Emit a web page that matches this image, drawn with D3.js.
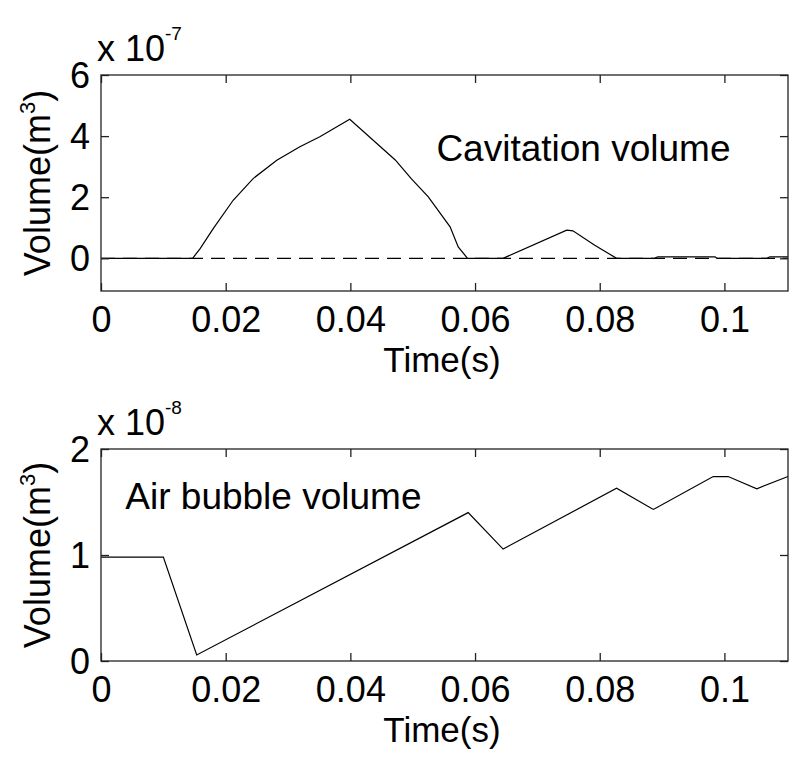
<!DOCTYPE html>
<html>
<head>
<meta charset="utf-8">
<script src="https://cdn.jsdelivr.net/npm/d3@7"></script>
<style>
  body { margin: 0; background: #fff; }
  svg text { font-family: "Liberation Sans", Arial, sans-serif; fill: #000; }
</style>
</head>
<body>
<div id="chart"></div>
<script>
// cavitation volume, units of 1e-7 m^3
const cavTime = [0, 0.0147, 0.0159, 0.0180, 0.0212, 0.0244, 0.0282, 0.0319, 0.0351, 0.0399, 0.0472, 0.0498, 0.0525, 0.0560, 0.0573, 0.0588,
  0.0645, 0.0747, 0.0757, 0.0792, 0.0827, 0.0888, 0.0893, 0.0985, 0.0988, 0.1068, 0.1073, 0.1102]
const cavVol = [0, 0, 0.32, 0.97, 1.90, 2.61, 3.21, 3.65, 3.98, 4.55, 3.22, 2.60, 2.01, 1.03, 0.37, 0,
  0, 0.92, 0.90, 0.43, 0, 0, 0.05, 0.05, 0, 0, 0.05, 0.05]

// air bubble volume, units of 1e-8 m^3
const airTime = [0, 0.0100, 0.01535, 0.0589, 0.0645, 0.0827, 0.0886, 0.0982, 0.1006, 0.1052, 0.1102]
const airVol = [0.98, 0.98, 0.057, 1.40, 1.056, 1.63, 1.43, 1.74, 1.74, 1.625, 1.74]

const xTicks = [0, 0.02, 0.04, 0.06, 0.08, 0.1]
const cavYTicks = [0, 2, 4, 6]
const airYTicks = [0, 1, 2]

const width = 795, height = 765;

const svg = d3.select('#chart')
.append('svg')
.attr('width', width)
.attr('height', height);

const drawPanel = (opt) => {

	const x = d3.scaleLinear().domain([0, 0.1102]).range([101, 788]);
	const y = d3.scaleLinear().domain(opt.yDomain).range([opt.bottom, opt.top]);

	const g = svg.append('g');

	// zero reference line (dashed)
	if (opt.dashedZero) {
		g.append('line')
		.attr('x1', x.range()[0]).attr('x2', x.range()[1])
		.attr('y1', y(0)).attr('y2', y(0))
		.attr('stroke', '#000')
		.attr('stroke-width', 1.2)
		.attr('stroke-dasharray', '14,8');
	}

	const line = d3.line()
	.x(d => x(d[0]))
	.y(d => y(d[1]));

	g.append('path')
	.datum(opt.time.map((t, i) => [t, opt.vol[i]]))
	.attr('d', line)
	.attr('fill', 'none')
	.attr('stroke', '#000')
	.attr('stroke-width', 1.2);

	// axes, ticks inside on all four sides
	const tickLen = 8;
	const axB = g.append('g').attr('transform', `translate(0,${opt.bottom})`)
	.call(d3.axisBottom(x).tickValues(xTicks).tickSize(-tickLen).tickPadding(15).tickFormat(d3.format('~g')));
	const axT = g.append('g').attr('transform', `translate(0,${opt.top})`)
	.call(d3.axisTop(x).tickValues(xTicks).tickSize(-tickLen).tickFormat(''));
	const axL = g.append('g').attr('transform', `translate(101,0)`)
	.call(d3.axisLeft(y).tickValues(opt.yTicks).tickSize(-tickLen).tickPadding(11).tickFormat(d3.format('~g')));
	const axR = g.append('g').attr('transform', `translate(788,0)`)
	.call(d3.axisRight(y).tickValues(opt.yTicks).tickSize(-tickLen).tickFormat(''));

	[axB, axT, axL, axR].forEach(a => {
		a.select('.domain').remove();
		a.selectAll('line').attr('stroke', '#222').attr('stroke-width', 1.3);
		a.selectAll('text').style('font-size', '36px').attr('fill', '#000');
	});

	axB.selectAll('text').attr('dy', '0.71em');
	axL.selectAll('text').attr('dy', '0.35em');

	g.append('rect')
	.attr('x', 101).attr('y', opt.top)
	.attr('width', 687).attr('height', opt.bottom - opt.top)
	.attr('fill', 'none')
	.attr('stroke', '#222')
	.attr('stroke-width', 1.3);

	// exponent label
	const ex = g.append('text')
	.attr('x', 97).attr('y', opt.top - 14)
	.style('font-size', '36px');
	ex.append('tspan').text('x 10');
	ex.append('tspan').attr('dy', -21).style('font-size', '19px').text(opt.exponent);

	// y label
	const yl = g.append('text')
	.attr('transform', `translate(50,${(opt.top + opt.bottom) / 2}) rotate(-90)`)
	.attr('text-anchor', 'middle')
	.style('font-size', '36px');
	yl.append('tspan').text('Volume(m');
	yl.append('tspan').attr('dy', -15).style('font-size', '22px').text('3');
	yl.append('tspan').attr('dy', 15).text(')');

	// x label
	g.append('text')
	.attr('x', 442).attr('y', opt.bottom + 81)
	.attr('text-anchor', 'middle')
	.style('font-size', '35px')
	.text('Time(s)');

	// annotation
	g.append('text')
	.attr('x', x(opt.note[0])).attr('y', y(opt.note[1]))
	.style('font-size', '37px')
	.text(opt.note[2]);
}

drawPanel({
	top: 75, bottom: 291, yDomain: [-1.07, 6],
	time: cavTime, vol: cavVol, yTicks: cavYTicks,
	exponent: '-7', dashedZero: true,
	note: [0.0538, 3.18, 'Cavitation volume']
});

drawPanel({
	top: 449, bottom: 661, yDomain: [0, 2],
	time: airTime, vol: airVol, yTicks: airYTicks,
	exponent: '-8', dashedZero: false,
	note: [0.0039, 1.43, 'Air bubble volume']
});
</script>
</body>
</html>
